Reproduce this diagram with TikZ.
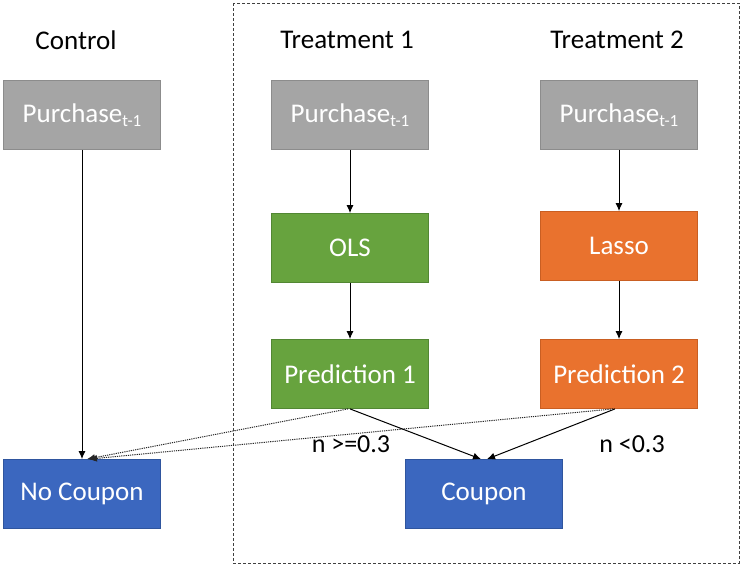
\documentclass[tikz,border=0pt]{standalone}
\usepackage{fontspec}
\setmainfont{Carlito}
\usetikzlibrary{arrows.meta}
\definecolor{grayfill}{HTML}{A5A5A5}
\definecolor{grayline}{HTML}{8C8C8C}
\definecolor{greenfill}{HTML}{67A33E}
\definecolor{greenline}{HTML}{528733}
\definecolor{orangefill}{HTML}{E9722E}
\definecolor{orangeline}{HTML}{C95E22}
\definecolor{bluefill}{HTML}{3B67BF}
\definecolor{blueline}{HTML}{2F559E}
\newcommand{\purch}{Purchase\raisebox{-0.35ex}{\fontsize{17}{20}\selectfont t-1}}
\tikzset{
  box/.style={minimum width=157pt, minimum height=69pt, inner sep=0pt, text=white,
    font=\fontsize{27}{30}\selectfont, line width=0.8pt},
  graybox/.style={box, fill=grayfill, draw=grayline},
  greenbox/.style={box, fill=greenfill, draw=greenline},
  orangebox/.style={box, fill=orangefill, draw=orangeline},
  bluebox/.style={box, fill=bluefill, draw=blueline},
  title/.style={font=\fontsize{27}{30}\selectfont, text=black, inner sep=0pt},
  lbl/.style={font=\fontsize{26}{30}\selectfont, text=black, inner sep=0pt},
  arr/.style={-{Latex[length=8pt,width=7pt]}, line width=1pt, black},
  dotarr/.style={-{Latex[length=8pt,width=7pt]}, line width=1pt, black!85, dash pattern=on 1.2pt off 1pt},
}
\begin{document}
\begin{tikzpicture}[x=1pt,y=-1pt]
\useasboundingbox (0,0) rectangle (741,566);
\draw[line width=0.9pt, black!75, dash pattern=on 3pt off 2pt] (233,3) rectangle (739,563);

\node[title] (tc) at (76,40) {Control};
\node[title] (t1) at (347,40) {Treatment 1};
\node[title] (t2) at (617,40) {Treatment 2};

\node[graybox] (pc) at (82,115) {\purch};
\node[graybox] (p1) at (350,115) {\purch};
\node[graybox] (p2) at (619,115) {\purch};

\node[greenbox] (ols) at (350,248) {OLS};
\node[orangebox] (lasso) at (619,246) {Lasso};

\node[greenbox] (pr1) at (350,374) {Prediction 1};
\node[orangebox] (pr2) at (619,374) {Prediction 2};

\node[bluebox] (nc) at (82,494) {No Coupon};
\node[bluebox] (cp) at (484,494) {Coupon};

\node[lbl] (l1) at (351,444) {n >=0.3};
\node[lbl] (l2) at (632,444) {n <0.3};

\draw[arr] (pc.south) -- (nc.north);
\draw[arr] (p1.south) -- (ols.north);
\draw[arr] (ols.south) -- (pr1.north);
\draw[arr] (p2.south) -- (lasso.north);
\draw[arr] (lasso.south) -- (pr2.north);

\draw[arr] (pr1.south) -- ([xshift=-3pt]cp.north);
\draw[arr] ([xshift=-4pt]pr2.south) -- ([xshift=3pt]cp.north);

\draw[dotarr] ([xshift=-2pt]pr1.south) -- ([xshift=5pt]nc.north);
\draw[dotarr] ([xshift=-6pt]pr2.south) -- ([xshift=7pt]nc.north);
\end{tikzpicture}
\end{document}
